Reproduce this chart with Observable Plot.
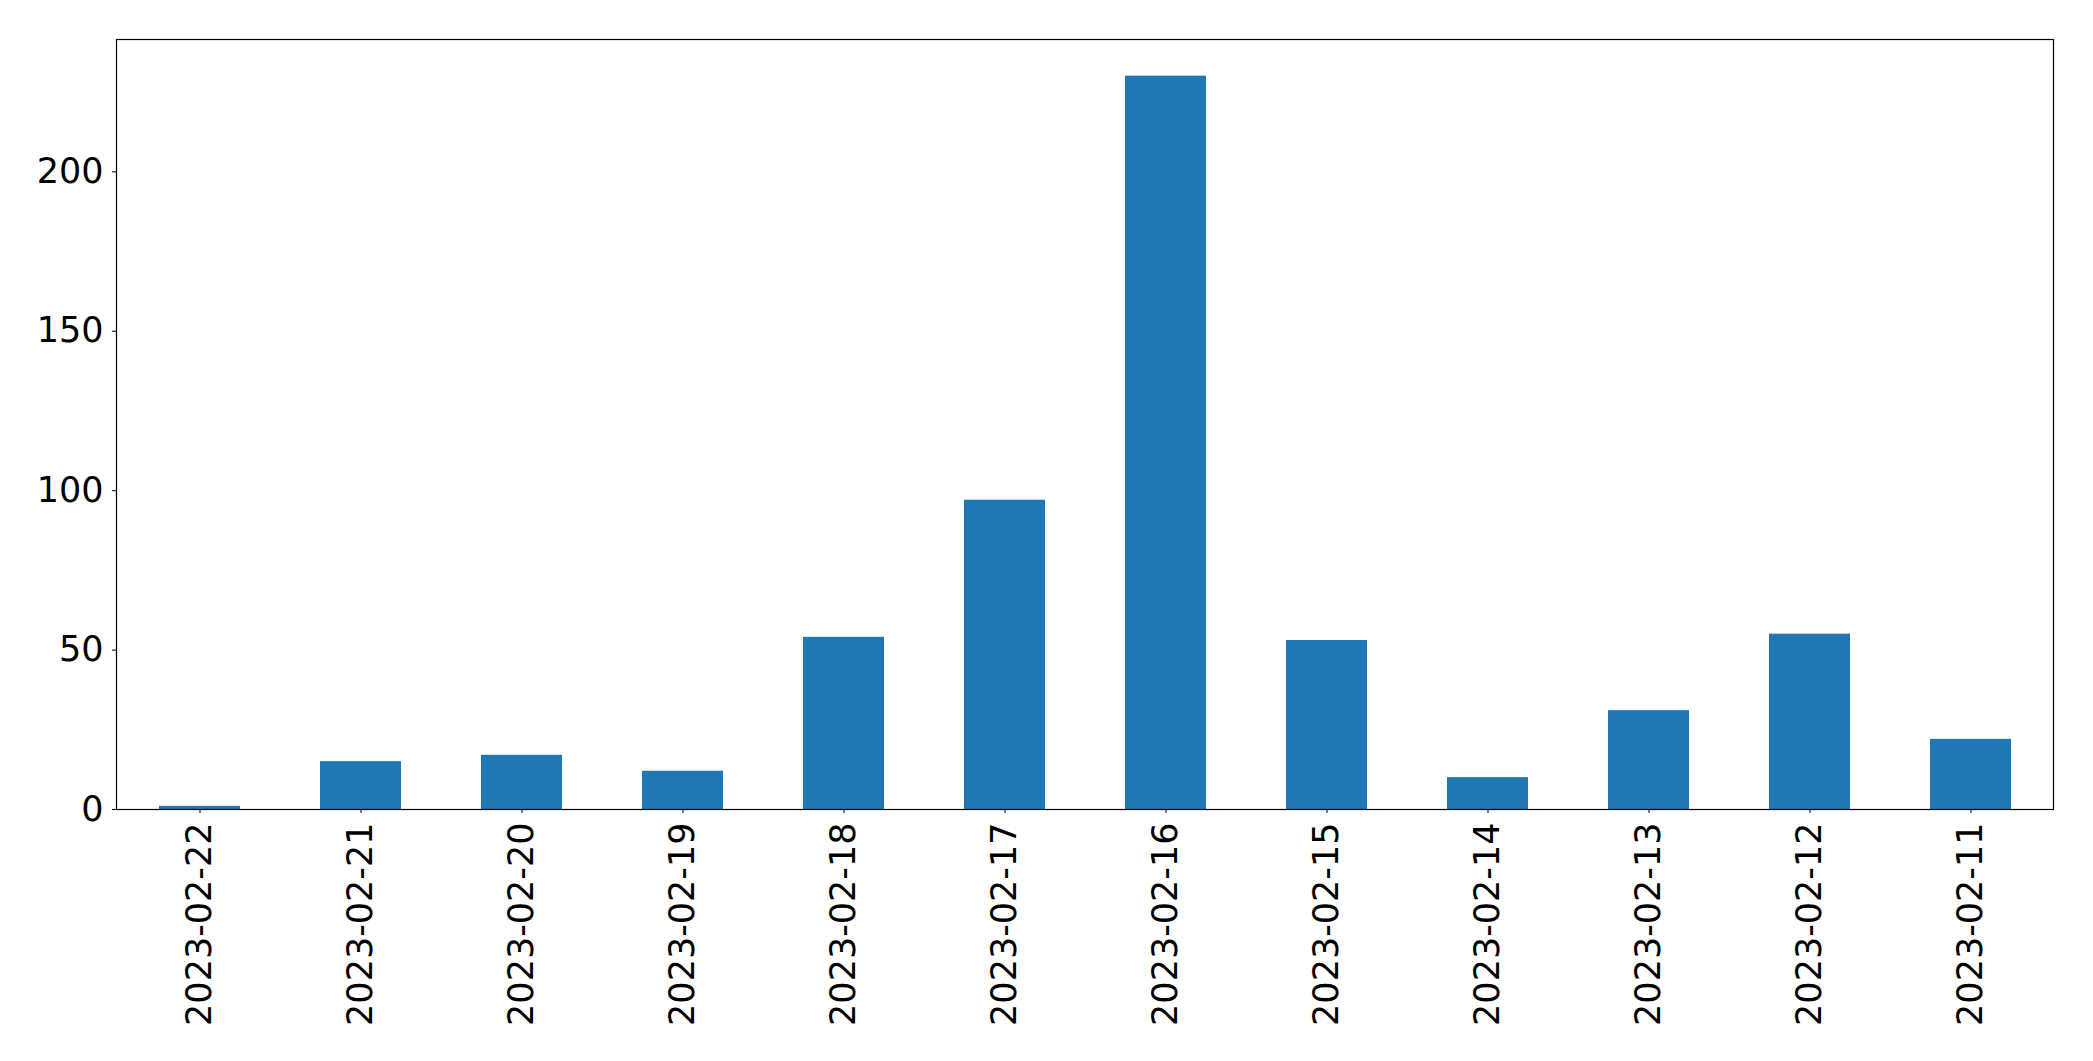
<!DOCTYPE html>
<html>
<head>
<meta charset="utf-8">
<script src="https://cdn.jsdelivr.net/npm/d3@7"></script>
<script src="https://cdn.jsdelivr.net/npm/@observablehq/plot@0.6"></script>
<style>
  html, body { margin: 0; padding: 0; background: #fff; }
  #chart svg { display: block; }
</style>
</head>
<body>
<div id="chart"></div>
<script>
const dates = ["2023-02-22","2023-02-21","2023-02-20","2023-02-19","2023-02-18","2023-02-17","2023-02-16","2023-02-15","2023-02-14","2023-02-13","2023-02-12","2023-02-11"];
const counts = [1, 15, 17, 12, 54, 97, 230, 53, 10, 31, 55, 22];
const yTicks = [0, 50, 100, 150, 200];

const data = dates.map((d, i) => ({date: d, count: counts[i]}));

const chart = Plot.plot({
  width: 2093,
  height: 1061,
  marginLeft: 116,
  marginRight: 40,
  marginTop: 39,
  marginBottom: 252,
  style: {fontFamily: "DejaVu Sans", fontSize: "35px", color: "#000", background: "#fff"},
  x: {domain: dates, paddingInner: 0.5, paddingOuter: 0.25, align: 0.5, label: null},
  y: {domain: [0, 241.5], label: null},
  marks: [
    Plot.barY(data, {x: "date", y: "count", fill: "#1f77b4"}),
    Plot.frame({stroke: "#000", strokeWidth: 1.2}),
    Plot.axisY({ticks: yTicks, tickSize: 4, tickPadding: 9, fontSize: 35, label: null, stroke: "#000", fill: "#000"}),
    Plot.axisX({tickRotate: -90, tickSize: 4, tickPadding: 9, fontSize: 35, label: null, stroke: "#000", fill: "#000"})
  ]
});
document.getElementById("chart").appendChild(chart);
</script>
</body>
</html>
